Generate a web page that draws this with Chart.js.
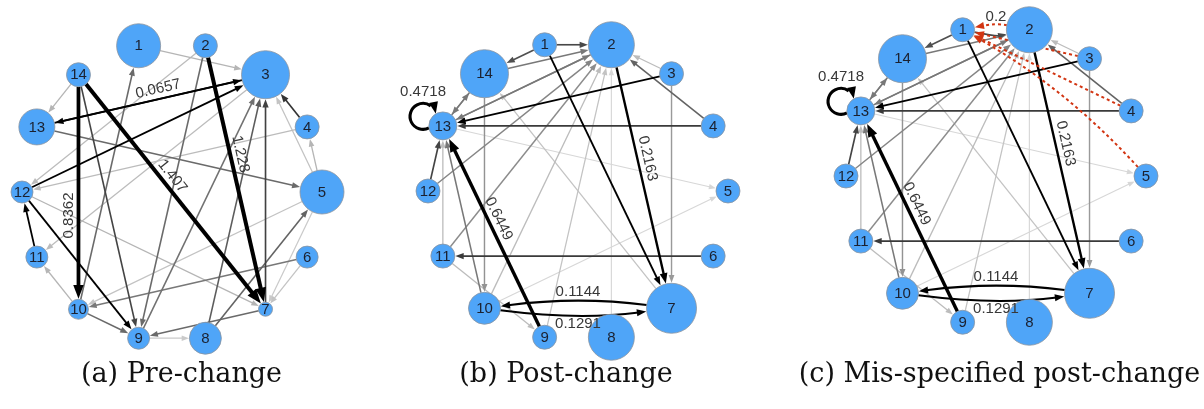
<!DOCTYPE html>
<html>
<head>
<meta charset="utf-8">
<script src="https://cdn.jsdelivr.net/npm/chart.js@4/dist/chart.umd.min.js"></script>
<style>
  html, body { margin: 0; padding: 0; background: #fff; }
  #fig { position: relative; width: 1204px; height: 409px; overflow: hidden; background: #fff; }
  #fig canvas { position: absolute; }
  .cap {
    position: absolute; top: 359px; line-height: 1; white-space: nowrap;
    font-family: "DejaVu Serif", "Liberation Serif", serif; font-size: 27px; color: #111;
    transform: translateX(-50%);
  }
</style>
</head>
<body>
<div id="fig">
  <canvas id="pre" width="400" height="360"></canvas>
  <canvas id="post" width="400" height="360"></canvas>
  <canvas id="mis" width="400" height="360"></canvas>
  <div class="cap" id="cap-pre">(a) Pre-change</div>
  <div class="cap" id="cap-post">(b) Post-change</div>
  <div class="cap" id="cap-mis">(c) Mis-specified post-change</div>
</div>
<script>
// ---- network data -------------------------------------------------------
const nodeNames = ['1','2','3','4','5','6','7','8','9','10','11','12','13','14'];

// node sizes (vertex size per node)
const nodeSizePre  = [22, 12, 24, 12, 22, 11, 7, 16, 11, 10, 11, 11, 18, 12];
const nodeSizePost = [12, 23, 12, 12, 12, 12, 25, 23, 12, 16, 12, 12, 14, 24];

// directed edges: [from, to, weight]
const edgesPre = [
  [14, 10, 0.8362], [14, 7, 1.407], [2, 7, 1.228], [3, 13, 0.0657], [13, 3, 0.0657],
  [12, 3, 0.072], [11, 12, 0.07], [12, 9, 0.07],
  [7, 3, 0.046], [4, 3, 0.05], [14, 9, 0.045], [8, 3, 0.038], [8, 5, 0.036],
  [10, 1, 0.034], [2, 9, 0.034], [13, 5, 0.034], [9, 3, 0.032], [7, 9, 0.034],
  [10, 9, 0.034], [6, 10, 0.03],
  [14, 13, 0.012], [5, 4, 0.012], [5, 3, 0.008], [10, 11, 0.012], [12, 7, 0.012],
  [1, 3, 0.012], [2, 12, 0.01], [3, 11, 0.01], [4, 12, 0.01], [5, 10, 0.008],
  [6, 7, 0.008], [5, 7, 0.006], [9, 8, 0.006]
];
const edgesPost = [
  [13, 13, 0.4718], [9, 13, 0.6449], [2, 7, 0.2163], [7, 10, 0.1144], [10, 7, 0.1291],
  [1, 7, 0.075], [3, 13, 0.07],
  [4, 13, 0.048], [6, 11, 0.048], [1, 2, 0.044], [1, 14, 0.042], [12, 13, 0.045], [4, 2, 0.036],
  [14, 2, 0.03], [13, 2, 0.028], [2, 13, 0.03], [14, 13, 0.03], [13, 14, 0.03], [10, 13, 0.03],
  [12, 2, 0.026], [11, 2, 0.024], [14, 10, 0.022], [3, 7, 0.02],
  [3, 2, 0.01], [11, 13, 0.01], [11, 9, 0.01], [9, 2, 0.008], [7, 14, 0.008], [10, 2, 0.01],
  [8, 2, 0.002], [10, 5, 0.002], [13, 5, 0.002]
];
// edges that the mis-specified model adds
const edgesMis = [[2, 1, 0.2], [3, 1, 0.2], [4, 1, 0.2], [5, 1, 0.2]];

// ---- drawing settings ---------------------------------------------------
const PX_PER_UNIT = 150;           // circle layout radius in pixels
const CANVAS_W = 400, CANVAS_H = 360;
const NODE_FILL = '#4fa5f8';
const NODE_LINE = '#8b94a0';
const NODE_FONT = '15px "Liberation Sans", Arial, sans-serif';
const LABEL_FONT = '15px "Liberation Sans", Arial, sans-serif';
const MIS_STYLE = { color: '#d23512', width: 2, dash: [3, 3] };
const LOOP_R = 13;

const panels = {
  pre:  { center: [171.5, 192], sizes: nodeSizePre, edges: edgesPre, extra: [],
          bends: {},
          labels: { '14-10': [0.6, 1], '14-7': [0.46, -1], '2-7': [0.42, -1], '3-13': [0.46, 1] },
          caption: 181.5 },
  post: { center: [578, 190.5], sizes: nodeSizePost, edges: edgesPost, extra: [],
          bends: { '7-10': 0.065, '10-7': 0.065 },
          labels: { '13-13': [0, 1], '9-13': [0.54, 1], '2-7': [0.44, -1], '7-10': [0.5, 1], '10-7': [0.5, 1] },
          caption: 566 },
  mis:  { center: [995.5, 176], sizes: nodeSizePost, edges: edgesPost, extra: edgesMis,
          bends: { '7-10': 0.065, '10-7': 0.065, '2-1': 0.1, '1-2': 0.1, '5-1': 0.08 },
          labels: { '13-13': [0, 1], '9-13': [0.54, 1], '2-7': [0.44, -1], '7-10': [0.5, 1], '10-7': [0.5, 1], '2-1': [0.5, 1] },
          caption: 999.5 }
};

// circular layout, node 1 just left of the top, proceeding clockwise
function circleLayout(n) {
  return Array.from({ length: n }, (_, k) => {
    const a = Math.PI / 2 + Math.PI / n - k * 2 * Math.PI / n;
    return { x: Math.cos(a), y: Math.sin(a) };
  });
}

function edgeStyle(w) {
  const s = Math.min(1, w / 0.065);
  const g = Math.round(222 * (1 - s));
  return { color: `rgb(${g},${g},${g})`, width: 1 + 3 * Math.min(1, Math.sqrt(w)), dash: [] };
}
const arrowLen = width => 4 + 2.6 * width;
function unit(x, y) { const l = Math.hypot(x, y) || 1; return { x: x / l, y: y / l }; }

function drawArrow(ctx, tip, u, len, color) {
  const hw = len * 0.38;
  const bx = tip.x - u.x * len, by = tip.y - u.y * len;
  ctx.fillStyle = color;
  ctx.beginPath();
  ctx.moveTo(tip.x, tip.y);
  ctx.lineTo(bx - u.y * hw, by + u.x * hw);
  ctx.lineTo(bx + u.y * hw, by - u.x * hw);
  ctx.closePath();
  ctx.fill();
}

function edgeGeometry(p, q, bend) {
  const dx = q.x - p.x, dy = q.y - p.y, L = Math.hypot(dx, dy);
  const nx = -dy / L, ny = dx / L;
  const c = { x: (p.x + q.x) / 2 + nx * bend * L, y: (p.y + q.y) / 2 + ny * bend * L };
  return { dx, dy, L, nx, ny, c };
}

function loopGeometry(chart, p) {
  const ca = chart.chartArea;
  const o = unit(p.x - (ca.left + ca.right) / 2, p.y - (ca.top + ca.bottom) / 2);
  const d = p.r + 8;
  return { lc: { x: p.x + o.x * d, y: p.y + o.y * d }, d };
}

function drawEdge(ctx, chart, pts, e, st, bend) {
  const p = pts[e[0] - 1], q = pts[e[1] - 1];
  const al = arrowLen(st.width);
  ctx.strokeStyle = st.color;
  ctx.lineWidth = st.width;
  ctx.setLineDash(st.dash);
  if (e[0] === e[1]) {
    const { lc, d } = loopGeometry(chart, p);
    const phi = Math.atan2(p.y - lc.y, p.x - lc.x);
    const cosA = Math.max(-1, Math.min(1, (d * d + LOOP_R * LOOP_R - p.r * p.r) / (2 * d * LOOP_R)));
    const alpha = Math.acos(cosA);
    const a0 = phi + alpha, a1 = phi - alpha + 2 * Math.PI;
    ctx.beginPath();
    ctx.arc(lc.x, lc.y, LOOP_R, a0, a1 - al * 0.8 / LOOP_R);
    ctx.stroke();
    ctx.setLineDash([]);
    const tip = { x: lc.x + LOOP_R * Math.cos(a1), y: lc.y + LOOP_R * Math.sin(a1) };
    drawArrow(ctx, tip, { x: -Math.sin(a1), y: Math.cos(a1) }, al, st.color);
    return;
  }
  const g = edgeGeometry(p, q, bend);
  const u0 = unit(g.c.x - p.x, g.c.y - p.y), u1 = unit(q.x - g.c.x, q.y - g.c.y);
  const s = { x: p.x + u0.x * p.r, y: p.y + u0.y * p.r };
  const tip = { x: q.x - u1.x * (q.r + 0.5), y: q.y - u1.y * (q.r + 0.5) };
  const base = { x: tip.x - u1.x * al * 0.8, y: tip.y - u1.y * al * 0.8 };
  ctx.beginPath();
  ctx.moveTo(s.x, s.y);
  if (bend) ctx.quadraticCurveTo(g.c.x, g.c.y, base.x, base.y);
  else ctx.lineTo(base.x, base.y);
  ctx.stroke();
  ctx.setLineDash([]);
  drawArrow(ctx, tip, u1, al, st.color);
}

function drawEdgeLabel(ctx, chart, pts, e, place, bend) {
  const p = pts[e[0] - 1], q = pts[e[1] - 1];
  const text = String(e[2]);
  ctx.save();
  ctx.font = LABEL_FONT;
  ctx.fillStyle = '#383838';
  ctx.textAlign = 'center';
  ctx.textBaseline = 'middle';
  if (e[0] === e[1]) {
    const { lc } = loopGeometry(chart, p);
    ctx.fillText(text, lc.x, lc.y - LOOP_R - 12);
    ctx.restore();
    return;
  }
  const g = edgeGeometry(p, q, bend);
  const t = place[0], side = place[1];
  const bx = (1 - t) * (1 - t) * p.x + 2 * t * (1 - t) * g.c.x + t * t * q.x;
  const by = (1 - t) * (1 - t) * p.y + 2 * t * (1 - t) * g.c.y + t * t * q.y;
  let ang = Math.atan2(g.dy, g.dx) * 180 / Math.PI;
  while (ang >= 80) ang -= 180;
  while (ang < -100) ang += 180;
  ctx.translate(bx + g.nx * side * 10, by + g.ny * side * 10);
  ctx.rotate(ang * Math.PI / 180);
  ctx.fillText(text, 0, 0);
  ctx.restore();
}

function nodePixels(chart, spec) {
  return chart.getDatasetMeta(0).data.map((el, i) => ({ x: el.x, y: el.y, r: spec.sizes[i] }));
}
const key = e => e[0] + '-' + e[1];

const networkPlugin = {
  id: 'network',
  beforeDatasetsDraw(chart) {
    const spec = panels[chart.canvas.id];
    const pts = nodePixels(chart, spec);
    const ctx = chart.ctx;
    ctx.save();
    ctx.lineCap = 'butt';
    spec.edges.slice().sort((a, b) => a[2] - b[2])
      .forEach(e => drawEdge(ctx, chart, pts, e, edgeStyle(e[2]), spec.bends[key(e)] || 0));
    spec.extra.forEach(e => drawEdge(ctx, chart, pts, e, MIS_STYLE, spec.bends[key(e)] || 0));
    ctx.restore();
  },
  afterDatasetsDraw(chart) {
    const spec = panels[chart.canvas.id];
    const pts = nodePixels(chart, spec);
    const ctx = chart.ctx;
    ctx.save();
    ctx.font = NODE_FONT;
    ctx.fillStyle = '#1b2130';
    ctx.textAlign = 'center';
    ctx.textBaseline = 'middle';
    pts.forEach((pt, i) => ctx.fillText(nodeNames[i], pt.x, pt.y + 0.5));
    ctx.restore();
    const shown = new Set();
    spec.edges.concat(spec.extra).forEach(e => {
      const k = key(e);
      const place = spec.labels[k];
      if (!place || shown.has(k)) return;
      shown.add(k);
      drawEdgeLabel(ctx, chart, pts, e, place, spec.bends[k] || 0);
    });
  }
};

const layout = circleLayout(nodeNames.length);
Object.keys(panels).forEach(id => {
  const spec = panels[id];
  const canvas = document.getElementById(id);
  canvas.style.left = (spec.center[0] - CANVAS_W / 2) + 'px';
  canvas.style.top = (spec.center[1] - CANVAS_H / 2) + 'px';
  document.getElementById('cap-' + id).style.left = spec.caption + 'px';
  const hx = CANVAS_W / 2 / PX_PER_UNIT, hy = CANVAS_H / 2 / PX_PER_UNIT;
  new Chart(canvas, {
    type: 'bubble',
    data: {
      datasets: [{
        data: layout.map((pt, i) => ({ x: pt.x, y: pt.y, r: spec.sizes[i] })),
        backgroundColor: NODE_FILL,
        borderColor: NODE_LINE,
        borderWidth: 0.8,
        hoverRadius: 0,
        clip: false
      }]
    },
    options: {
      responsive: false,
      animation: false,
      devicePixelRatio: 1,
      events: [],
      layout: { padding: 0, autoPadding: false },
      scales: {
        x: { type: 'linear', display: false, min: -hx, max: hx },
        y: { type: 'linear', display: false, min: -hy, max: hy }
      },
      plugins: { legend: { display: false }, tooltip: { enabled: false } }
    },
    plugins: [networkPlugin]
  });
});
</script>
</body>
</html>
